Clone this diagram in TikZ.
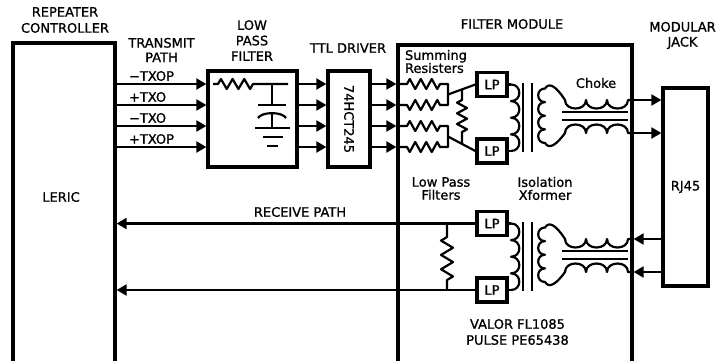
\documentclass[tikz,border=0pt]{standalone}
\usepackage{fontspec}
\setmainfont{DejaVu Sans}[FakeBold=1]
\usetikzlibrary{arrows.meta,calc}
\newcommand\zzH[2]{-- ++({#1/12},{-#2}) -- ++({#1/6},{2*#2}) -- ++({#1/6},{-2*#2}) -- ++({#1/6},{2*#2}) -- ++({#1/6},{-2*#2}) -- ++({#1/6},{2*#2}) -- ++({#1/12},{-#2})}
\newcommand\zzV[2]{-- ++({-#2},{#1/12}) -- ++({2*#2},{#1/6}) -- ++({-2*#2},{#1/6}) -- ++({2*#2},{#1/6}) -- ++({-2*#2},{#1/6}) -- ++({2*#2},{#1/6}) -- ++({-#2},{#1/12})}
\newcommand\bumpR[2]{.. controls +({#2*4/3},0) and +({#2*4/3},0) .. ++(0,#1)}
\newcommand\bumpL[2]{.. controls +({-#2*4/3},0) and +({-#2*4/3},0) .. ++(0,#1)}
\newcommand\bumpU[2]{.. controls +(0,{#2*4/3}) and +(0,{#2*4/3}) .. ++({-#1},0)}
\newcommand\bumpN[2]{.. controls +(0,{-#2*4/3}) and +(0,{-#2*4/3}) .. ++(#1,0)}
\newcommand\xfbody{%
  \draw[wire] (511,84.5) \bumpR{16.625}{8.3} \bumpR{16.625}{8.3} \bumpR{16.625}{8.3} \bumpR{16.625}{8.3};
  \draw[wire] (523,83) -- (523,152) (532,83) -- (532,152);
  \draw[wire] (562,112) -- (628,112) (562,120) -- (628,120);
  \draw[wire] (632,100) -- (628,100) \bumpU{21}{8.5} \bumpU{21}{8.5} \bumpU{21}{8.5}
     .. controls (556,86) and (549,82) .. (545,88.5)
     \bumpL{13.625}{6.8} \bumpL{13.625}{6.8} \bumpL{13.625}{6.8} \bumpL{13.625}{6.8}
     .. controls (549,149.5) and (556,145.5) .. (565,133)
     \bumpN{21}{8.5} \bumpN{21}{8.5} \bumpN{21}{8.5} -- (632,133);
}
\begin{document}
\begin{tikzpicture}[x=1pt,y=-1pt,
  font=\fontsize{13}{15.5}\selectfont,
  wire/.style={line width=2.2pt, line join=round},
  arr/.style={line width=2.2pt, -{Triangle[length=10pt,width=11pt]}},
  box/.style={draw, line width=3.3pt, inner sep=0pt},
  lpbox/.style={draw, line width=3.3pt, inner sep=0pt, minimum width=30pt, minimum height=24pt},
  txt/.style={inner sep=0pt, outer sep=0pt}]
\fill[white] (0,0) rectangle (717,360);
\useasboundingbox (0,0) rectangle (717,360);

% boxes
\node[box, minimum width=102pt, minimum height=323pt] (leric) at (64,204.5) {};
\node[box, minimum width=89pt, minimum height=96pt] (lpf) at (252.5,119) {};
\node[box, minimum width=42pt, minimum height=96pt] (drv) at (349,119) {};
\node[box, minimum width=234pt, minimum height=321pt] (fm) at (515,205.5) {};
\node[box, minimum width=45pt, minimum height=198pt] (rj) at (685.5,187) {RJ45};
\node[lpbox] (lp1) at (492,84.5) {LP};
\node[lpbox] (lp2) at (492,151) {LP};
\node[lpbox] (lp3) at (492,223.5) {LP};
\node[lpbox] (lp4) at (492,290) {LP};

% labels
\node[txt, align=center, font=\fontsize{13}{16}\selectfont] (rc) at (65,20) {REPEATER\\CONTROLLER};
\node[txt] (leric-t) at (61,197) {LERIC};
\node[txt, align=center, font=\fontsize{13}{14.5}\selectfont] (tp) at (161.5,50) {TRANSMIT\\PATH};
\node[txt, anchor=west] (s1) at (129,76) {−TXOP};
\node[txt, anchor=west] (s2) at (129,97) {+TXO};
\node[txt, anchor=west] (s3) at (129,118) {−TXO};
\node[txt, anchor=west] (s4) at (129,139) {+TXOP};
\node[txt, align=center, font=\fontsize{13}{15.5}\selectfont] (lpft) at (252,40.5) {LOW\\PASS\\FILTER};
\node[txt] (ttl) at (348,48) {TTL DRIVER};
\node[txt, rotate=-90] (drv-t) at (349,119) {74HCT245};
\node[txt] (fmt) at (512,24) {FILTER MODULE};
\node[txt, align=center, font=\fontsize{13}{15}\selectfont] (mj) at (682.5,35.5) {MODULAR\\JACK};
\node[txt, align=left, anchor=west, font=\fontsize{13}{13}\selectfont] (sr) at (405,61.5) {Summing\\Resisters};
\node[txt] (ck) at (596,83) {Choke};
\node[txt, align=center, font=\fontsize{13}{13}\selectfont] (lpl) at (441,188.5) {Low Pass\\Filters};
\node[txt, align=center, font=\fontsize{13}{13}\selectfont] (iso) at (545,188.5) {Isolation\\Xformer};
\node[txt] (rp) at (300,212) {RECEIVE PATH};
\node[txt, align=center, font=\fontsize{13}{16}\selectfont] (vp) at (517.5,332) {VALOR FL1085\\PULSE PE65438};

% transmit arrows
\foreach \yy in {84,105,126,147} {
  \draw[arr] (leric.east |- 0,\yy) -- (lpf.west |- 0,\yy);
  \draw[arr] (lpf.east |- 0,\yy) -- (drv.west |- 0,\yy);
  \draw[arr] (drv.east |- 0,\yy) -- (fm.west |- 0,\yy);
}

% low pass filter internals
\draw[wire] (213,84) -- (218,84) \zzH{35}{5} -- (288,84);
\draw[wire] (272,84) -- (272,105);
\draw[wire] (258,105) -- (286,105);
\draw[wire] (258,118) .. controls (262,111.5) and (282,111.5) .. (286,118);
\draw[wire] (272,113) -- (272,128);
\draw[wire] (255,128) -- (290,128) (263,137) -- (283,137) (267,146) -- (278,146);

% summing resistors
\draw[wire] (398,84) -- (407,84) \zzH{33}{5} -- (448,84) -- (448,105) -- (440,105) \zzH{-33}{5} -- (398,105);
\draw[wire] (398,126) -- (407,126) \zzH{33}{5} -- (448,126) -- (448,147) -- (440,147) \zzH{-33}{5} -- (398,147);
\coordinate (j1) at (448,94.5);
\coordinate (j2) at (448,136.5);
\draw[wire] (j1) -- (lp1.west);
\draw[wire] (j2) -- (lp2.west);
\draw[wire] ($(j1)!0.509!(lp1.west)$) -- (462,100) \zzV{32}{5} -- ($(j2)!0.509!(lp2.west)$);

% transformers and chokes
\draw[wire] (lp1.east) -- (511,84.5);
\draw[wire] (lp2.east) -- (511,151);
\xfbody
\begin{scope}[shift={(0,139)}]
\xfbody
\end{scope}
\draw[wire] (lp3.east) -- (511,223.5);
\draw[wire] (lp4.east) -- (511,290);

% jack arrows
\draw[arr] (fm.east |- 0,100) -- (rj.west |- 0,100);
\draw[arr] (fm.east |- 0,133) -- (rj.west |- 0,133);
\draw[arr] (rj.west |- 0,239) -- (fm.east |- 0,239);
\draw[arr] (rj.west |- 0,272) -- (fm.east |- 0,272);

% receive path
\draw[arr] (lp3.west) -- (leric.east |- lp3.west);
\draw[arr] (lp4.west) -- (leric.east |- lp4.west);
\draw[wire] (447,223.5) -- (447,237) \zzV{43}{6} -- (447,290);
\end{tikzpicture}
\end{document}
